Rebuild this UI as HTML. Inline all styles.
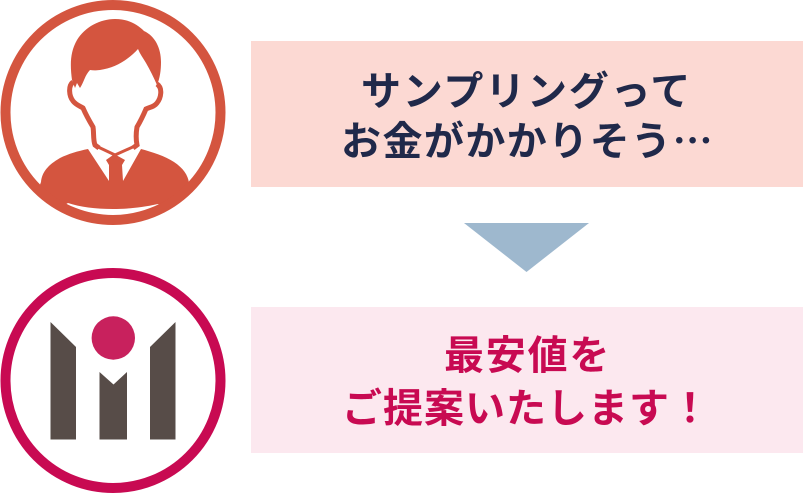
<!DOCTYPE html>
<html lang="ja">
<head>
<meta charset="utf-8">
<style>
html,body{margin:0;padding:0;background:#fff;width:803px;height:493px;overflow:hidden}
svg{display:block}
text{font-family:"Noto Sans CJK JP","Liberation Sans",sans-serif;font-weight:700;font-size:40px;letter-spacing:1.8px}
</style>
</head>
<body>
<svg width="803" height="493" viewBox="0 0 803 493" xmlns="http://www.w3.org/2000/svg">
<rect x="251" y="41" width="552" height="146" fill="#fcd9d3"/>
<rect x="251" y="307" width="552" height="146" fill="#fce8ef"/>
<polygon points="464,223 589,223 526.5,272" fill="#9eb8ce"/>

<g fill="#d4553f" stroke="none">
<path d="M38 190 L41 182 C42 172 48 165 60 158 C68 154 78 151 88 149 L109 181 L109 165 L106 160 L113 155 L116 155 L125 160 L122 165 L123 181 L141 149 C152 152 165 156 174 162 C183 168 188 175 189 183 L188 190 L165 207 L158 204 C140 208 125 209 113 209 C95 209 80 207 68 203 L61 207 Z"/>
<path d="M75 88 L72 80 C70 65 70 52 77 40 C85 27 100 19 115 19 C128 19 137 24 144 31 C155 36 161 48 161 62 C161 70 160 78 157 85 C154 78 150 70 146 63 C143 58 140 54 138 49 C128 60 115 68 100 70 C96 70.500 93 70.500 90 70 C85 75 84 82 80 88 L77 83 Z"/>
</g>
<path d="M73 82 C68 86 69 96 73 101 C76 105 80 106 83 108 C86 115 90 122 93 127 C94 133 93 140 95 145 L99 148 M157 84 C163 88 161 98 157 103 C154 107 150 107 146 109 C143 116 140 122 137 127 C136 133 136 140 137 145 L133 148" fill="none" stroke="#d4553f" stroke-width="5"/>
<path d="M96 146 L115 155 L135 146" fill="none" stroke="#d4553f" stroke-width="3"/>
<circle cx="113" cy="112.500" r="107.500" fill="none" stroke="#d4553f" stroke-width="10"/>

<circle cx="113" cy="380.500" r="107.500" fill="none" stroke="#c80a52" stroke-width="10"/>
<circle cx="113.300" cy="338" r="21.700" fill="#c8215d"/>
<g fill="#574c48">
<polygon points="50.500,322 76,347 76,439.500 50.500,439.500"/>
<polygon points="175.500,322 150,347 150,439.500 175.500,439.500"/>
<polygon points="99.500,372 113.500,384.500 127,372 127,439.500 99.500,439.500"/>
</g>

<text x="361" y="105" fill="#20294a">サンプリングって</text>
<text x="341" y="155" fill="#20294a" style="letter-spacing:1.45px">お金がかかりそう⋯</text>
<text x="444" y="369" fill="#c80a52">最安値を</text>
<text x="342" y="422" fill="#c80a52" style="letter-spacing:1px">ご提案いたします！</text>
</svg>
</body>
</html>
